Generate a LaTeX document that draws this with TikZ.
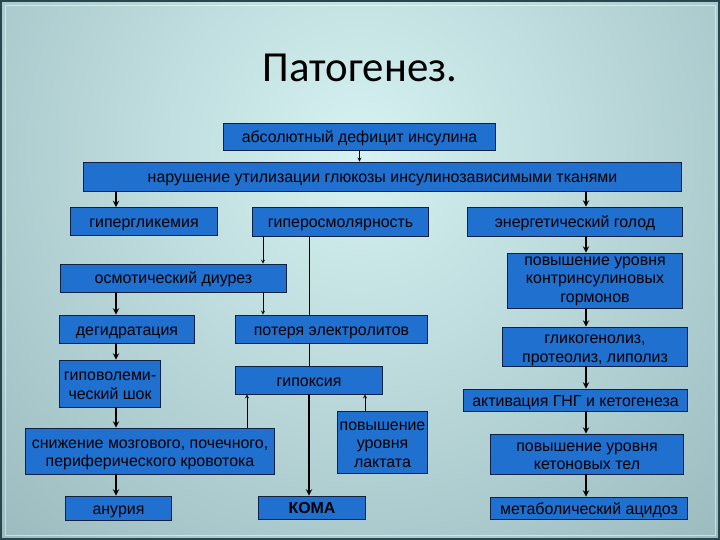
\documentclass[tikz,border=0pt]{standalone}
\usepackage{fontspec}
\setmainfont{Liberation Sans}
\newfontfamily\titlefont{Carlito}
\usetikzlibrary{positioning,arrows}

\definecolor{boxblue}{RGB}{32,112,208}
\definecolor{boxedge}{RGB}{16,32,64}
\definecolor{bglight}{RGB}{214,242,242}
\definecolor{bgdark}{RGB}{96,132,140}
\definecolor{frameedge}{RGB}{40,70,78}

\tikzset{
  box/.style={draw=boxedge,fill=boxblue,text=black,line width=0.8bp,
    inner sep=1bp,font=\fontsize{16}{18}\selectfont,text height=12bp,text depth=0bp},
  multi/.style={draw=boxedge,fill=boxblue,text=black,line width=0.8bp,
    inner sep=1bp,font=\fontsize{16}{18.5}\selectfont,align=center,
    text height=31bp,text depth=0bp},
  thickarr/.style={->,line width=1.8bp},
  thinarr/.style={->,line width=0.8bp},
  link/.style={line width=0.8bp}
}

\begin{document}
\begin{tikzpicture}[x=1bp,y=-1bp,>=stealth]
\useasboundingbox (0,0) rectangle (720,540);
% background of the slide
\begin{scope}
\clip (0,0) rectangle (720,540);
\shade[inner color=bglight,outer color=bgdark] (360,150) circle (1060);
\end{scope}
\draw[frameedge,line width=2bp] (1,1) rectangle (719,539);
\draw[white,opacity=0.5,line width=0.8bp] (5,5) rectangle (715,535);

\node[anchor=base] (title) at (360,82) {\titlefont\fontsize{43}{46}\selectfont Патогенез.};

% top
\node[box,minimum width=273,minimum height=27] (absol) at (359.5,136.5) {абсолютный дефицит инсулина};
\node[box,minimum width=601,minimum height=29] (narush) at (382.5,176.5) {нарушение утилизации глюкозы инсулинозависимыми тканями};
\node[box,minimum width=148,minimum height=28] (giperglik) at (144,221.5) {гипергликемия};
\node[box,minimum width=177,minimum height=29] (giperosm) at (340.5,221.5) {гиперосмолярность};
\node[box,minimum width=216,minimum height=29] (energ) at (575,221.5) {энергетический голод};

% left and middle
\node[box,minimum width=227,minimum height=28] (osmot) at (173.5,278) {осмотический диурез};
\node[box,minimum width=136,minimum height=28] (degidr) at (127,329) {дегидратация};
\node[box,minimum width=193,minimum height=28] (poterya) at (331.5,329) {потеря электролитов};
\node[multi,minimum width=102,minimum height=47] (gipovol) at (110,383.5) {гиповолеми-\\ческий шок};
\node[box,minimum width=148,minimum height=28] (gipoksia) at (309,380) {гипоксия};
\node[multi,minimum width=250,minimum height=46] (snizh) at (150,451) {снижение мозгового, почечного,\\периферического кровотока};
\node[multi,text height=49bp,minimum width=91,minimum height=63] (laktat) at (382.5,442.5) {повышение\\уровня\\лактата};
\node[box,minimum width=107,minimum height=24] (anuria) at (118.5,508) {анурия};
\node[box,minimum width=108,minimum height=23] (koma) at (312,507.5) {\bfseries КОМА};

% right
\node[multi,text height=42bp,minimum width=176,minimum height=56] (kontr) at (595,281) {повышение уровня\\контринсулиновых\\гормонов};
\node[multi,minimum width=186,minimum height=39] (glikogen) at (595,346.5) {гликогенолиз,\\протеолиз, липолиз};
\node[box,minimum width=225,minimum height=22] (aktiv) at (575.5,400) {активация ГНГ и кетогенеза};
\node[multi,minimum width=194,minimum height=40] (keton) at (587,454) {повышение уровня\\кетоновых тел};
\node[box,minimum width=198,minimum height=22] (acidoz) at (589,508) {метаболический ацидоз};

\coordinate (colL) at (116,0);
\coordinate (colOsm) at (263,0);
\coordinate (colUp) at (247,0);
\coordinate (colLak) at (365,0);
\coordinate (colR) at (586,0);

\draw[thinarr] (absol.south) -- (narush.north -| absol);
\draw[thickarr] (narush.south -| colL) -- (giperglik.north -| colL);
\draw[thickarr] (narush.south -| colR) -- (energ.north -| colR);

\draw[thinarr] (giperosm.south -| colOsm) -- (osmot.north -| colOsm);
\draw[thinarr] (osmot.south -| colOsm) -- (poterya.north -| colOsm);
\draw[link] (giperosm.south -| gipoksia) -- (poterya.north -| gipoksia);
\draw[link] (poterya.south -| gipoksia) -- (gipoksia.north);
\draw[thickarr] (gipoksia.south) -- (koma.north -| gipoksia);
\draw[thinarr] (snizh.north -| colUp) -- (gipoksia.south -| colUp);
\draw[thinarr] (laktat.north -| colLak) -- (gipoksia.south -| colLak);

\draw[thickarr] (osmot.south -| colL) -- (degidr.north -| colL);
\draw[thickarr] (degidr.south -| colL) -- (gipovol.north -| colL);
\draw[thickarr] (gipovol.south -| colL) -- (snizh.north -| colL);
\draw[thickarr] (snizh.south -| colL) -- (anuria.north -| colL);

\draw[thickarr] (energ.south -| colR) -- (kontr.north -| colR);
\draw[thickarr] (kontr.south -| colR) -- (glikogen.north -| colR);
\draw[thickarr] (glikogen.south -| colR) -- (aktiv.north -| colR);
\draw[thickarr] (aktiv.south -| colR) -- (keton.north -| colR);
\draw[thickarr] (keton.south -| colR) -- (acidoz.north -| colR);
\end{tikzpicture}
\end{document}
